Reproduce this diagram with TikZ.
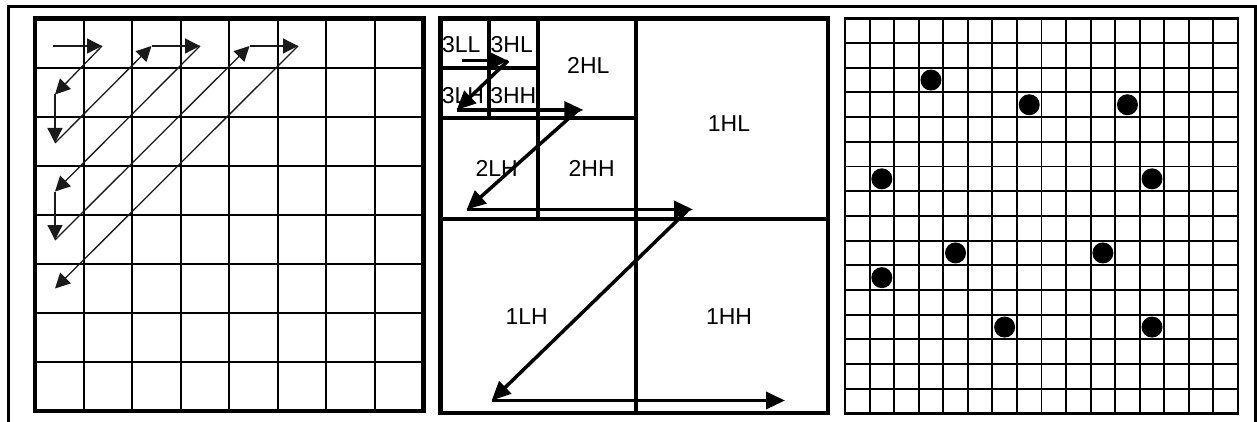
\documentclass[tikz,border=0pt]{standalone}
\usepackage{fontspec}
\setmainfont{Liberation Sans}
\usepackage{xcolor}
\usepackage{tikz}
\usetikzlibrary{arrows.meta}
\definecolor{scanink}{HTML}{1A1A1A}
\definecolor{paperbg}{HTML}{FFFFFF}

\begin{document}
\begin{tikzpicture}[
    x=1pt, y=-1pt,
    frameline/.style={draw=black, line width=2.2pt},
    border/.style={draw=black, line width=4.2pt},
    cellline/.style={draw=black, line width=2.1pt},
    bandline/.style={draw=black, line width=3.5pt},
    fineline/.style={draw=black, line width=1.9pt},
    band/.style={inner sep=0pt, font=\fontsize{23}{27}\selectfont},
    zigzag/.style={-{Triangle[length=15pt,width=15pt]}, line width=1.3pt, draw=scanink},
    bandscan/.style={-{Triangle[length=19pt,width=17pt]}, line width=3.5pt, draw=black}
]
\useasboundingbox[fill=paperbg] (0,0) rectangle (1257,422);

% Outer frame (open at the bottom)
\draw[frameline] (8.5,430) -- (8.5,6.5) -- (1255.5,6.5) -- (1255.5,430);

% Panel 1: 8x8 block with zigzag scan
\foreach \i in {1,...,7} {
    \draw[cellline] ({35+48.56*\i},18.5) -- ({35+48.56*\i},411);
    \draw[cellline] (35,{18.5+49.06*\i}) -- (423.5,{18.5+49.06*\i});
}
\draw[border] (35,18.5) rectangle (423.5,411);

\coordinate (q0) at (53,46);
\coordinate (q1) at (102,46);
\coordinate (q2) at (55,94.5);
\coordinate (q3) at (55,143);
\coordinate (q4) at (151.5,46);
\coordinate (q5) at (200,46);
\coordinate (q6) at (55,191.5);
\coordinate (q7) at (55,240);
\coordinate (q8) at (249.5,46);
\coordinate (q9) at (298,46);
\coordinate (q10) at (55,288.5);

\draw[zigzag] (q0) -- (q1);
\draw[zigzag] (q1) -- (q2);
\draw[zigzag] (q2) -- (q3);
\draw[zigzag] (q3) -- (q4);
\draw[zigzag] (q4) -- (q5);
\draw[zigzag] (q5) -- (q6);
\draw[zigzag] (q6) -- (q7);
\draw[zigzag] (q7) -- (q8);
\draw[zigzag] (q8) -- (q9);
\draw[zigzag] (q9) -- (q10);

% Panel 2: three-level subband decomposition
\draw[bandline] (636,18.5) -- (636,413);
\draw[bandline] (440.5,219) -- (828,219);
\draw[bandline] (538,18.5) -- (538,219);
\draw[bandline] (440.5,118) -- (636,118);
\draw[bandline] (489,18.5) -- (489,118);
\draw[bandline] (440.5,68) -- (538,68);
\draw[border] (440.5,18.5) rectangle (828,413);

\node[band] (b3ll) at (461.3,45) {3LL};
\node[band] (b3hl) at (511.7,45) {3HL};
\node[band] (b3lh) at (463,96) {3LH};
\node[band] (b3hh) at (513.3,96) {3HH};
\node[band] (b2hl) at (588.3,65.7) {2HL};
\node[band] (b2lh) at (496.7,168.3) {2LH};
\node[band] (b2hh) at (591.7,168.3) {2HH};
\node[band] (b1hl) at (729,124) {1HL};
\node[band] (b1lh) at (526.7,316.7) {1LH};
\node[band] (b1hh) at (729,316.7) {1HH};

\coordinate (m0) at (461.7,60.7);
\coordinate (m1) at (508,60.7);
\coordinate (m2) at (456.7,110);
\coordinate (m3) at (583.3,110);
\coordinate (d3) at (577,111);
\coordinate (m4) at (466.7,209.5);
\coordinate (m5) at (693,209.5);
\coordinate (d5) at (687,211);
\coordinate (m6) at (491.7,400.5);
\coordinate (m7) at (785,400.5);

\draw[bandscan] (m0) -- (m1);
\draw[bandscan] (m1) -- (m2);
\draw[bandscan] (m2) -- (m3);
\draw[bandscan] (d3) -- (m4);
\draw[bandscan] (m4) -- (m5);
\draw[bandscan] (d5) -- (m6);
\draw[bandscan] (m6) -- (m7);

% Panel 3: 16x16 grid with significant coefficients
\foreach \i in {1,...,15} {
    \draw[fineline] ({845+24.56*\i},18.3) -- ({845+24.56*\i},413.5);
    \draw[fineline] (845,{18.3+24.7*\i}) -- (1238,{18.3+24.7*\i});
}
\draw[draw=black, line width=2.6pt] (845,18.3) rectangle (1238,413.5);

\foreach \c/\r in {3/2, 7/3, 11/3, 1/6, 12/6, 4/9, 10/9, 1/10, 6/12, 12/12}
    \fill[black] ({845+24.56*(\c+0.5)},{18.3+24.7*(\r+0.5)}) circle[radius=10.5pt];

\end{tikzpicture}
\end{document}
